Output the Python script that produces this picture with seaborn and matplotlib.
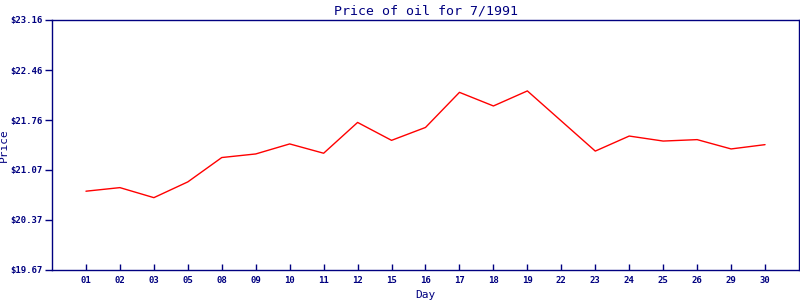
import matplotlib
matplotlib.use("Agg")
import matplotlib.pyplot as plt
import seaborn as sns
import pandas as pd

days = ["01", "02", "03", "05", "08", "09", "10", "11", "12", "15", "16",
        "17", "18", "19", "22", "23", "24", "25", "26", "29", "30"]
prices = [20.77, 20.82, 20.68, 20.90, 21.24, 21.29, 21.43, 21.30, 21.73, 21.48, 21.66,
          22.15, 21.96, 22.17, 21.75, 21.33, 21.54, 21.47, 21.49, 21.36, 21.42]
ytick_vals = [19.67, 20.37, 21.07, 21.76, 22.46, 23.16]

sns.set_style("white")
plt.rcParams['font.family'] = ['DejaVu Sans Mono', 'DejaVu Sans']
navy = "#000080"

df = pd.DataFrame({"Day": days, "Price": prices})
df["idx"] = range(len(days))

fig = plt.figure(figsize=(8, 3), dpi=100)
ax = fig.add_axes([52/800, 30/300, 747/800, 250/300])
sns.lineplot(data=df, x="idx", y="Price", ax=ax, color="red", linewidth=1)

ax.set_xlim(-1, len(days))
ax.set_ylim(ytick_vals[0], ytick_vals[-1])
ax.set_xticks(range(len(days)))
ax.set_xticklabels(days)
ax.set_yticks(ytick_vals)
ax.set_yticklabels([f"${v:.2f}" for v in ytick_vals])

for s in ax.spines.values():
    s.set_color(navy)
    s.set_linewidth(1)
    s.set_visible(True)

ax.tick_params(axis="x", direction="in", length=4, width=1, color=navy,
               labelcolor=navy, labelsize=6.5, pad=4)
ax.tick_params(axis="y", direction="out", length=5, width=1, color=navy,
               labelcolor=navy, labelsize=6.5, pad=2)
ax.tick_params(axis="x", bottom=True)
ax.tick_params(axis="y", left=True)
for lab in ax.get_xticklabels() + ax.get_yticklabels():
    lab.set_fontweight("bold")

ax.set_title("Price of oil for 7/1991", color=navy, fontsize=9.5, pad=4)
ax.set_xlabel("Day", color=navy, fontsize=8, labelpad=4)
ax.set_ylabel("Price", color=navy, fontsize=8)
ax.yaxis.set_label_coords((9 - 52) / 747, 0.5)

fig.savefig("out.png", dpi=100)
